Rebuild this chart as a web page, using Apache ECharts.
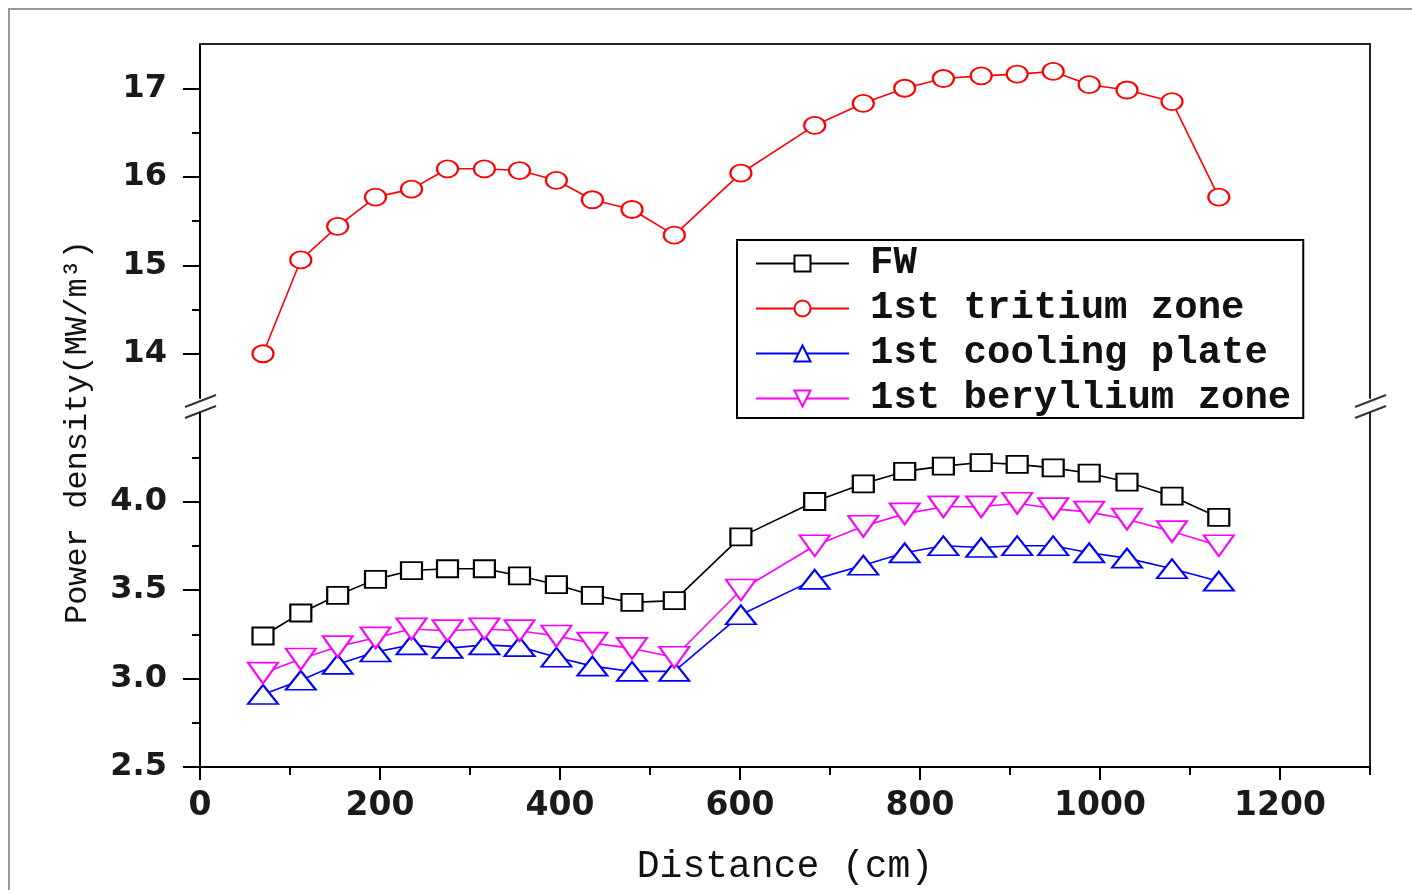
<!DOCTYPE html>
<html><head><meta charset="utf-8">
<script src="https://cdn.jsdelivr.net/npm/echarts@6/dist/echarts.min.js"></script>
<style>html,body{margin:0;padding:0;background:#fff}#c{width:1412px;height:890px}</style>
</head><body><div id="c"></div>
<script>
// ---- data ----
const distance = [70,112,153,195,235,275,316,355,396,436,480,527,601,683,737,783,826,868,908,948,988,1030,1080,1132];
const fw        = [3.24,3.37,3.47,3.56,3.61,3.62,3.62,3.58,3.53,3.47,3.43,3.44,3.80,4.00,4.10,4.17,4.20,4.22,4.21,4.19,4.16,4.11,4.03,3.91];
const tritium   = [14.00,15.06,15.44,15.77,15.86,16.09,16.09,16.07,15.96,15.74,15.63,15.34,16.04,16.58,16.83,17.00,17.11,17.14,17.16,17.19,17.04,16.98,16.85,15.77];
const cooling   = [2.91,2.99,3.08,3.15,3.19,3.17,3.19,3.18,3.12,3.07,3.04,3.04,3.36,3.56,3.64,3.71,3.75,3.74,3.75,3.75,3.71,3.68,3.62,3.55];
const beryllium = [3.03,3.11,3.18,3.23,3.28,3.27,3.28,3.27,3.24,3.20,3.17,3.12,3.50,3.75,3.86,3.93,3.97,3.97,3.99,3.96,3.94,3.90,3.83,3.75];
const seriesNames = ['FW','1st tritium zone','1st cooling plate','1st beryllium zone'];

const xMajorTicks = [0,200,400,600,800,1000,1200];
const xMinorTicks = [100,300,500,700,900,1100,1300];
const upperMajorTicks = [14,15,16,17];
const upperMinorTicks = [14.5,15.5,16.5];
const lowerMajorTicks = [2.5,3.0,3.5,4.0];
const lowerMinorTicks = [2.75,3.25,3.75,4.25];
const xTitle = 'Distance (cm)';
const yTitle = 'Power density(MW/m³)';

const pairs = vals => distance.map((d,i)=>[d, vals[i]]);

const AX = '#000';
const tickFont = {fontFamily:'DejaVu Sans', fontWeight:'bold', fontSize:32, color:'#1a1a1a'};
const monoFont = 'Liberation Mono';

function lineAxisOnly(extra){
  return Object.assign({type:'value', axisLine:{show:true,lineStyle:{color:'#222',width:2}},
    axisTick:{show:false}, axisLabel:{show:false}, splitLine:{show:false}}, extra);
}

const option = {
  animation:false,
  backgroundColor:'#fff',
  grid:[
    {left:200, top:44, width:1170, height:354, outerBoundsMode:'none'},
    {left:200, top:413, width:1170, height:354, outerBoundsMode:'none'}
  ],
  xAxis:[
    lineAxisOnly({gridIndex:0, min:0, max:1300, position:'top'}),
    {gridIndex:1, type:'value', min:0, max:1300, position:'bottom',
     axisLine:{show:true, lineStyle:{color:AX,width:2}},
     axisTick:{show:true, customValues:xMajorTicks, length:13, lineStyle:{color:AX,width:2}},
     axisLabel:{show:true, customValues:xMajorTicks, margin:23, ...tickFont, fontSize:33, formatter:v=>String(v)},
     splitLine:{show:false},
     name:xTitle, nameLocation:'middle', nameGap:81,
     nameTextStyle:{fontFamily:monoFont, fontSize:38, color:'#111'}},
    {gridIndex:1, type:'value', min:0, max:1300, position:'bottom',
     axisLine:{show:false},
     axisTick:{show:true, customValues:xMinorTicks, length:8, lineStyle:{color:AX,width:2}},
     axisLabel:{show:false}, splitLine:{show:false}}
  ],
  yAxis:[
    {gridIndex:0, type:'value', min:13.5, max:17.5, position:'left',
     axisLine:{show:true, lineStyle:{color:AX,width:2}},
     axisTick:{show:true, customValues:upperMajorTicks, length:17, lineStyle:{color:AX,width:2}},
     axisLabel:{show:true, customValues:upperMajorTicks, margin:33, ...tickFont, formatter:v=>String(Math.round(v))},
     splitLine:{show:false}},
    {gridIndex:0, type:'value', min:13.5, max:17.5, position:'left',
     axisLine:{show:false},
     axisTick:{show:true, customValues:upperMinorTicks, length:8, lineStyle:{color:AX,width:2}},
     axisLabel:{show:false}, splitLine:{show:false}},
    lineAxisOnly({gridIndex:0, min:13.5, max:17.5, position:'right'}),
    {gridIndex:1, type:'value', min:2.5, max:4.5, position:'left',
     axisLine:{show:true, lineStyle:{color:AX,width:2}},
     axisTick:{show:true, customValues:lowerMajorTicks, length:17, lineStyle:{color:AX,width:2}},
     axisLabel:{show:true, customValues:lowerMajorTicks, margin:33, ...tickFont, formatter:v=>v.toFixed(1)},
     splitLine:{show:false}},
    {gridIndex:1, type:'value', min:2.5, max:4.5, position:'left',
     axisLine:{show:false},
     axisTick:{show:true, customValues:lowerMinorTicks, length:8, lineStyle:{color:AX,width:2}},
     axisLabel:{show:false}, splitLine:{show:false}},
    lineAxisOnly({gridIndex:1, min:2.5, max:4.5, position:'right'})
  ],
  legend:{
    data:seriesNames, orient:'vertical', left:737, top:240,
    borderColor:'#000', borderWidth:2, padding:[4,12,0,18],
    itemWidth:93, itemHeight:20, itemGap:6,
    textStyle:{fontFamily:monoFont, fontSize:39, fontWeight:'bold', color:'#111', lineHeight:39, padding:[0,0,0,16]}
  },
  series:[
    {name:seriesNames[0], type:'line', xAxisIndex:1, yAxisIndex:3, data:pairs(fw),
     symbol:'emptyRect', symbolSize:[21,17], color:'#000',
     lineStyle:{color:'#000', width:1.6}, itemStyle:{color:'#000', borderWidth:3.5}},
    {name:seriesNames[1], type:'line', xAxisIndex:0, yAxisIndex:0, data:pairs(tritium),
     symbol:'emptyCircle', symbolSize:[21,17], color:'#ff0000',
     lineStyle:{color:'#ff0000', width:1.6}, itemStyle:{color:'#ff0000', borderWidth:3.5}},
    {name:seriesNames[2], type:'line', xAxisIndex:1, yAxisIndex:3, data:pairs(cooling),
     symbol:'emptyTriangle', symbolSize:[30,19], color:'#0000ff',
     lineStyle:{color:'#0000ff', width:1.6}, itemStyle:{color:'#0000ff', borderWidth:3.5}},
    {name:seriesNames[3], type:'line', xAxisIndex:1, yAxisIndex:3, data:pairs(beryllium),
     symbol:'emptyTriangle', symbolRotate:180, symbolSize:[30,21], color:'#ff00ff',
     lineStyle:{color:'#ff00ff', width:1.6}, itemStyle:{color:'#ff00ff', borderWidth:3.5}}
  ],
  graphic:[
    {type:'rect', shape:{x:9, y:9, width:1430, height:920}, style:{fill:'none', stroke:'#9a9a9a', lineWidth:2}, silent:true},
    {type:'line', shape:{x1:185,y1:407,x2:216,y2:395}, style:{stroke:'#333', lineWidth:2}},
    {type:'line', shape:{x1:185,y1:418,x2:216,y2:406}, style:{stroke:'#333', lineWidth:2}},
    {type:'line', shape:{x1:1355,y1:407,x2:1386,y2:395}, style:{stroke:'#333', lineWidth:2}},
    {type:'line', shape:{x1:1355,y1:418,x2:1386,y2:406}, style:{stroke:'#333', lineWidth:2}},
    {type:'text', x:78, y:432, rotation:Math.PI/2,
     style:{text:yTitle, fontFamily:monoFont, fontSize:32, fill:'#111', align:'center', verticalAlign:'middle'}}
  ]
};
const chart = echarts.init(document.getElementById('c'), null, {renderer:'canvas'});
chart.setOption(option);
</script>
</body></html>
